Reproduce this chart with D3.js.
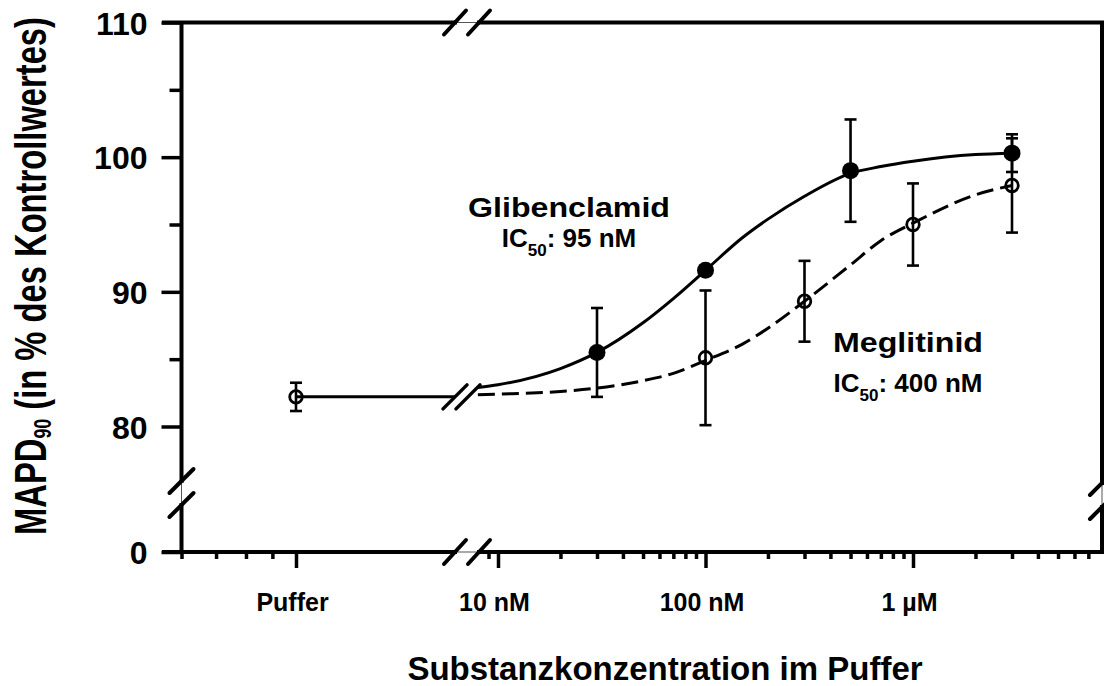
<!DOCTYPE html>
<html><head><meta charset="utf-8">
<script src="https://cdn.jsdelivr.net/npm/d3@7"></script>
<style>
html,body{margin:0;padding:0;background:#fff;}
text{font-family:"Liberation Sans",Arial,Helvetica,sans-serif;font-weight:bold;fill:#000;}
</style>
</head><body>
<svg id="chart" width="1104" height="686"></svg>
<script>
// ---------------- data ----------------
// concentrations in mol/L
const gliConc = [3e-8, 1e-7, 5e-7, 3e-6];
const gliMean = [85.5, 91.6, 99.0, 100.3];
const gliErr  = [3.3, 0.3, 3.8, 1.4];

const megConc = [1e-7, 3e-7, 1e-6, 3e-6];
const megMean = [85.1, 89.3, 95.0, 97.9];
const megErr  = [5.0, 3.0, 3.05, 3.5];

const pufferMean = 82.2;
const pufferErr  = 1.05;

// fitted curves at these concentrations
const curveConc = [8e-9, 1e-8, 2e-8, 3e-8, 5e-8, 7e-8, 1e-7, 1.5e-7, 2e-7, 3e-7, 5e-7, 7e-7, 1e-6, 2e-6, 3e-6];
const gliCurve  = [82.9, 83.1, 84.3, 85.5, 87.7, 89.5, 91.6, 94.0, 95.4, 97.1, 98.8, 99.3, 99.7, 100.2, 100.3];
const megCurve  = [82.35, 82.4, 82.6, 82.85, 83.4, 83.95, 84.9, 86.1, 87.3, 89.3, 92.0, 93.8, 95.1, 97.2, 97.9];

const yMajorTicks = [80, 90, 100, 110];
const yMinorTicks = [85, 95, 105];
const yLowTicks   = [0];
const xMajorValues = [1e-8, 1e-7, 1e-6];
const xMajorLabels = ["10 nM", "100 nM", "1 µM"];
const xMinorValues = [9e-9, 2e-8, 3e-8, 4e-8, 5e-8, 6e-8, 7e-8, 8e-8, 9e-8,
                      2e-7, 3e-7, 4e-7, 5e-7, 6e-7, 7e-7, 8e-7, 9e-7,
                      2e-6, 3e-6, 4e-6, 5e-6, 6e-6, 7e-6];
const pufferPos = 10;               // position of "Puffer" on the left segment
const pufferMinor = [6, 7, 8, 9];
const pufferLabel = "Puffer";

// ---------------- layout ----------------
const W = 1104, H = 686;
const axX = 181.5, axY = 552, topY = 22.5, rightX = 1102;
const svg = d3.select("#chart");

const y = d3.scaleLinear().domain([80, 110]).range([426.5, 22.5]);
const yLow = d3.scaleLinear().domain([0, 10]).range([axY, axY - 40]);
const x = d3.scaleLog().domain([1e-8, 1e-6]).range([498, 913]);
const xPuf = d3.scaleLog().domain([6, 10]).range([axX, 296]);

const black = "#000";

// ---------------- curves ----------------
const lineGen = d3.line().x(d => x(d[0])).y(d => y(d[1])).curve(d3.curveMonotoneX);
svg.append("path")
  .datum(curveConc.map((c, i) => [c, megCurve[i]]))
  .attr("d", lineGen).attr("fill", "none").attr("stroke", black)
  .attr("stroke-width", 3).attr("stroke-dasharray", "17,7");
svg.append("path")
  .datum(curveConc.map((c, i) => [c, gliCurve[i]]))
  .attr("d", lineGen).attr("fill", "none").attr("stroke", black)
  .attr("stroke-width", 3);

// horizontal buffer level up to the break
const curveBreakX = [455, 468];
svg.append("line")
  .attr("x1", xPuf(pufferPos)).attr("x2", curveBreakX[0])
  .attr("y1", y(pufferMean)).attr("y2", y(pufferMean))
  .attr("stroke", black).attr("stroke-width", 3);
curveBreakX.forEach(cx => {
  svg.append("line")
    .attr("x1", cx - 12).attr("y1", y(pufferMean) + 12)
    .attr("x2", cx + 12).attr("y2", y(pufferMean) - 12)
    .attr("stroke", black).attr("stroke-width", 3.5).attr("stroke-linecap", "round");
});

// ---------------- error bars ----------------
function errorBars(cx, mean, err) {
  const g = svg.append("g").attr("stroke", black).attr("stroke-width", 2.6);
  g.append("line").attr("x1", cx).attr("x2", cx).attr("y1", y(mean - err)).attr("y2", y(mean + err));
  g.append("line").attr("x1", cx - 6).attr("x2", cx + 6).attr("y1", y(mean - err)).attr("y2", y(mean - err));
  g.append("line").attr("x1", cx - 6).attr("x2", cx + 6).attr("y1", y(mean + err)).attr("y2", y(mean + err));
}
errorBars(xPuf(pufferPos), pufferMean, pufferErr);
gliConc.forEach((c, i) => errorBars(x(c), gliMean[i], gliErr[i]));
megConc.forEach((c, i) => errorBars(x(c), megMean[i], megErr[i]));

// ---------------- markers ----------------
svg.append("g").selectAll("circle").data(gliConc).join("circle")
  .attr("cx", d => x(d)).attr("cy", (d, i) => y(gliMean[i])).attr("r", 8.5).attr("fill", black);
svg.append("g").selectAll("circle").data(megConc).join("circle")
  .attr("cx", d => x(d)).attr("cy", (d, i) => y(megMean[i])).attr("r", 6.3)
  .attr("fill", "none").attr("stroke", black).attr("stroke-width", 2.8);
svg.append("circle").attr("cx", xPuf(pufferPos)).attr("cy", y(pufferMean)).attr("r", 6.3)
  .attr("fill", "none").attr("stroke", black).attr("stroke-width", 2.8);

// ---------------- axes ----------------
const yAxisMajor = d3.axisLeft(y).tickValues(yMajorTicks).tickSize(20).tickPadding(14).tickFormat(d3.format("d"));
const gy = svg.append("g").attr("transform", `translate(${axX},0)`).call(yAxisMajor);
const gyMin = svg.append("g").attr("transform", `translate(${axX},0)`)
  .call(d3.axisLeft(y).tickValues(yMinorTicks).tickSize(12).tickFormat(""));
const gyLow = svg.append("g").attr("transform", `translate(${axX},0)`)
  .call(d3.axisLeft(yLow).tickValues(yLowTicks).tickSize(20).tickPadding(14).tickFormat(d3.format("d")));
[gy, gyMin, gyLow].forEach(g => {
  g.select(".domain").remove();
  g.selectAll(".tick line").attr("stroke", black).attr("stroke-width", 3.5);
  g.selectAll(".tick text").style("font-size", "32px").attr("fill", black).attr("dy", "0.36em");
});

const gx = svg.append("g").attr("transform", `translate(0,${axY})`)
  .call(d3.axisBottom(x).tickValues(xMajorValues).tickSize(16).tickPadding(25)
    .tickFormat((d, i) => xMajorLabels[i]));
const gxMin = svg.append("g").attr("transform", `translate(0,${axY})`)
  .call(d3.axisBottom(x).tickValues(xMinorValues).tickSize(7).tickFormat(""));
const gxPuf = svg.append("g").attr("transform", `translate(0,${axY})`)
  .call(d3.axisBottom(xPuf).tickValues([pufferPos]).tickSize(16).tickPadding(25).tickFormat(() => pufferLabel));
const gxPufMin = svg.append("g").attr("transform", `translate(0,${axY})`)
  .call(d3.axisBottom(xPuf).tickValues(pufferMinor).tickSize(7).tickFormat(""));
[gx, gxMin, gxPuf, gxPufMin].forEach(g => {
  g.select(".domain").remove();
  g.selectAll(".tick line").attr("stroke", black).attr("stroke-width", 3.5);
  g.selectAll(".tick text").style("font-size", "25px").attr("fill", black).attr("dx", "-4");
});

// frame lines
const frame = svg.append("g").attr("stroke", black).attr("stroke-width", 4);
frame.append("line").attr("x1", axX).attr("x2", axX).attr("y1", topY).attr("y2", axY);
frame.append("line").attr("x1", 162).attr("x2", W).attr("y1", axY).attr("y2", axY);
frame.append("line").attr("x1", 162).attr("x2", W).attr("y1", topY).attr("y2", topY);
frame.append("line").attr("x1", rightX).attr("x2", rightX).attr("y1", topY).attr("y2", axY + 2);

// axis breaks
function hBreak(cy, centers) {
  svg.append("rect").attr("x", centers[0] + 2).attr("y", cy - 3).attr("width", centers[1] - centers[0] - 4)
    .attr("height", 6).attr("fill", "#fff");
  svg.append("line").attr("x1", centers[0]).attr("x2", centers[1]).attr("y1", cy).attr("y2", cy)
    .attr("stroke", "#555").attr("stroke-width", 1);
  centers.forEach(cx => svg.append("line")
    .attr("x1", cx - 11).attr("y1", cy + 12).attr("x2", cx + 11).attr("y2", cy - 12)
    .attr("stroke", black).attr("stroke-width", 4).attr("stroke-linecap", "round"));
}
function vBreak(cx, centers) {
  svg.append("rect").attr("x", cx - 3).attr("y", centers[0] + 2).attr("width", 6)
    .attr("height", centers[1] - centers[0] - 4).attr("fill", "#fff");
  svg.append("line").attr("x1", cx).attr("x2", cx).attr("y1", centers[0]).attr("y2", centers[1])
    .attr("stroke", "#555").attr("stroke-width", 1);
  centers.forEach(cy => svg.append("line")
    .attr("x1", cx - 12).attr("y1", cy + 12).attr("x2", cx + 12).attr("y2", cy - 12)
    .attr("stroke", black).attr("stroke-width", 4).attr("stroke-linecap", "round"));
}
hBreak(axY, [455, 479]);
hBreak(topY, [455, 479]);
vBreak(axX, [481, 505]);
vBreak(rightX, [483, 507]);

// ---------------- labels ----------------
function label(cx, by, main, mainLen) {
  svg.append("text").attr("x", cx).attr("y", by).attr("text-anchor", "middle")
    .style("font-size", "28px").attr("textLength", mainLen).attr("lengthAdjust", "spacingAndGlyphs")
    .text(main);
}
function icLabel(cx, by, value) {
  const t = svg.append("text").attr("x", cx).attr("y", by).attr("text-anchor", "middle").style("font-size", "26px");
  t.append("tspan").text("IC");
  t.append("tspan").attr("dy", 9).style("font-size", "17px").text("50");
  t.append("tspan").attr("dy", -9).text(": " + value);
}
label(569, 217, "Glibenclamid", 202);
icLabel(569, 247, "95 nM");
label(908, 352, "Meglitinid", 150);
icLabel(908, 392, "400 nM");

svg.append("text").attr("x", 665).attr("y", 680).attr("text-anchor", "middle")
  .style("font-size", "33px").text("Substanzkonzentration im Puffer");

const yt = svg.append("text").attr("text-anchor", "middle").style("font-size", "44px");
yt.append("tspan").text("MAPD");
yt.append("tspan").attr("dy", 5).style("font-size", "24px").text("90");
yt.append("tspan").attr("dy", -5).text(" (in % des Kontrollwertes)");
const natural = yt.node().getComputedTextLength();
yt.attr("transform", `translate(46,276) rotate(-90) scale(${518 / natural},1)`);
</script>
</body></html>
